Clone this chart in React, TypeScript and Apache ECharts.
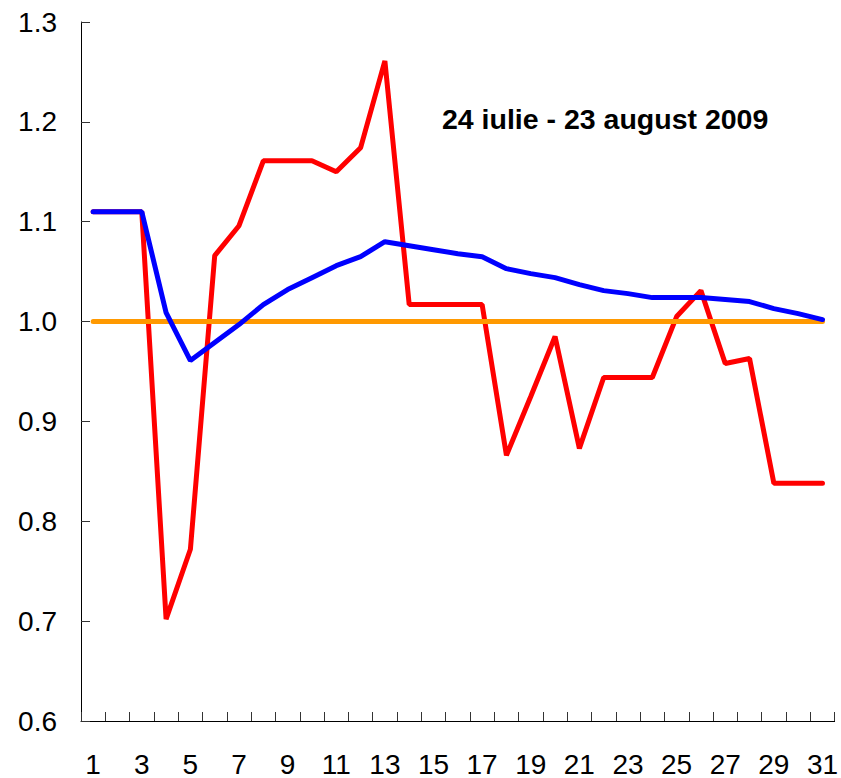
import React, { useEffect, useRef } from "react";
import * as echarts from "echarts";

const categories: string[] = Array.from({ length: 31 }, (_, i) => String(i + 1));

const redValues: number[] = [
  1.11, 1.11, 1.11, 0.702, 0.772, 1.066, 1.096, 1.161, 1.161, 1.161,
  1.150, 1.174, 1.261, 1.017, 1.017, 1.017, 1.017, 0.866, 0.925, 0.985,
  0.873, 0.944, 0.944, 0.944, 1.005, 1.031, 0.958, 0.963, 0.838, 0.838,
  0.838,
];

const blueValues: number[] = [
  1.11, 1.11, 1.11, 1.009, 0.961, 0.979, 0.997, 1.017, 1.032, 1.044,
  1.056, 1.065, 1.080, 1.076, 1.072, 1.068, 1.065, 1.053, 1.048, 1.044,
  1.037, 1.031, 1.028, 1.024, 1.024, 1.024, 1.022, 1.020, 1.013, 1.008,
  1.002,
];

const orangeValues: number[] = Array.from({ length: 31 }, () => 1.0);

const titleText = "24 iulie - 23 august 2009";

export default function App() {
  const ref = useRef<HTMLDivElement>(null);

  useEffect(() => {
    if (!ref.current) return;
    const chart = echarts.init(ref.current, undefined, { renderer: "svg" });
    const font = "'Liberation Sans', Arial, sans-serif";
    chart.setOption({
      animation: false,
      backgroundColor: "#ffffff",
      grid: { left: 81, right: 3, top: 22, bottom: 56, containLabel: false },
      xAxis: {
        type: "category",
        data: categories,
        boundaryGap: true,
        axisLine: { show: true, lineStyle: { color: "#000", width: 1 } },
        axisTick: {
          show: true,
          inside: true,
          length: 9,
          interval: 0,
          lineStyle: { color: "#333", width: 1 },
        },
        axisLabel: {
          interval: 1,
          margin: 29,
          color: "#000",
          fontSize: 28,
          fontFamily: font,
        },
        splitLine: { show: false },
      },
      yAxis: {
        type: "value",
        min: 0.6,
        max: 1.3,
        interval: 0.1,
        axisLine: { show: true, lineStyle: { color: "#000", width: 1 } },
        axisTick: {
          show: true,
          inside: true,
          length: 9,
          lineStyle: { color: "#333", width: 1 },
        },
        axisLabel: {
          margin: 24,
          color: "#000",
          fontSize: 28,
          fontFamily: font,
          formatter: (v: number) => v.toFixed(1),
        },
        splitLine: { show: false },
      },
      graphic: [
        {
          type: "text",
          x: 442,
          y: 118.5,
          style: {
            text: titleText,
            fill: "#000",
            font: `bold 28.5px ${font}`,
            verticalAlign: "middle",
            align: "left",
          },
        },
      ],
      series: [
        {
          type: "line",
          data: redValues,
          showSymbol: false,
          symbol: "none",
          lineStyle: { color: "#FF0000", width: 5, cap: "round" },
          z: 2,
        },
        {
          type: "line",
          data: orangeValues,
          showSymbol: false,
          symbol: "none",
          lineStyle: { color: "#FF9900", width: 5, cap: "round" },
          z: 3,
        },
        {
          type: "line",
          data: blueValues,
          showSymbol: false,
          symbol: "none",
          lineStyle: { color: "#0000FF", width: 5, cap: "round" },
          z: 4,
        },
      ],
    });
    return () => chart.dispose();
  }, []);

  return (
    <div
      ref={ref}
      style={{ position: "fixed", left: 0, top: 0, width: 841, height: 778 }}
    />
  );
}
